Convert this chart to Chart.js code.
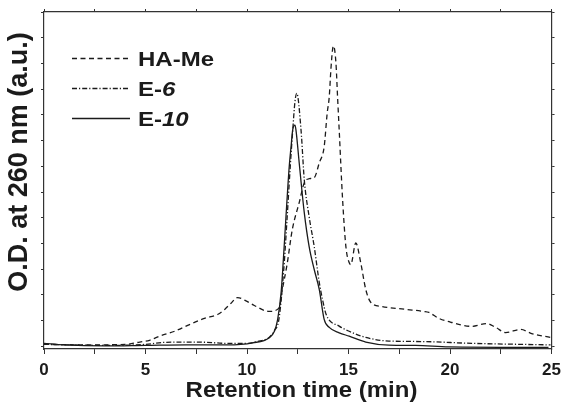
<!DOCTYPE html>
<html><head><meta charset="utf-8">
<script src="https://cdn.jsdelivr.net/npm/chart.js@4/dist/chart.umd.min.js"></script>
<style>html,body{margin:0;padding:0;background:#fff}#wrap{width:567px;height:405px;position:relative}</style>
</head><body><div id="wrap"><canvas id="c" width="567" height="405"></canvas></div>
<script>
// ---- data (retention time in min, O.D. in arbitrary units) ----
const haMeTime = [0, 2, 4, 4.72, 5.2, 5.7, 6.43, 7.17, 7.9, 8.55, 8.9, 9.2, 9.53, 10.0, 10.36, 11.1, 11.59, 11.74, 11.98, 12.23, 12.57, 12.82, 13.06, 13.31, 13.56, 13.8, 13.95, 14.05, 14.13, 14.21, 14.26, 14.38, 14.46, 14.54, 14.7, 14.87, 15.03, 15.11, 15.36, 15.6, 15.85, 16.1, 16.65, 17.81, 18.71, 18.96, 19.45, 20.09, 21.07, 21.81, 22.25, 22.74, 23.48, 24.02, 24.95];
const haMeOD   = [0.08, 0.06, 0.08, 0.17, 0.24, 0.40, 0.59, 0.85, 1.09, 1.24, 1.44, 1.67, 1.90, 1.75, 1.59, 1.36, 1.51, 2.21, 3.22, 4.54, 5.59, 6.36, 6.52, 6.56, 7.14, 7.76, 9.08, 9.70, 10.75, 11.52, 11.68, 11.02, 9.70, 8.42, 5.82, 3.88, 3.26, 3.18, 4.02, 3.26, 2.21, 1.71, 1.55, 1.44, 1.36, 1.32, 1.09, 0.93, 0.78, 0.89, 0.74, 0.54, 0.66, 0.50, 0.35];

const e6Time = [0, 3, 5, 6, 7, 8, 9, 10, 10.5, 11.1, 11.35, 11.57, 11.81, 11.98, 12.13, 12.25, 12.36, 12.45, 12.66, 12.82, 13.06, 13.31, 13.56, 13.72, 13.9, 14.54, 15.03, 15.85, 16.99, 18.61, 21.07, 24.95];
const e6OD   = [0.08, 0.04, 0.08, 0.16, 0.17, 0.16, 0.12, 0.12, 0.19, 0.36, 0.62, 1.05, 2.99, 5.06, 7.00, 8.38, 9.50, 9.84, 8.42, 6.48, 5.04, 3.88, 2.48, 1.82, 1.24, 0.79, 0.59, 0.35, 0.21, 0.19, 0.12, 0.06];

const e10Time = [0, 1, 3, 5, 7, 9, 10.28, 11.1, 11.35, 11.51, 11.68, 11.76, 11.92, 12.08, 12.17, 12.25, 12.36, 12.41, 12.57, 12.82, 13.06, 13.31, 13.56, 13.8, 14.05, 14.54, 15.03, 15.85, 16.99, 18.31, 19.94, 24.85];
const e10OD   = [0.12, 0.06, 0.02, 0.04, 0.06, 0.06, 0.14, 0.34, 0.59, 1.05, 2.10, 2.99, 5.06, 7.00, 7.77, 8.42, 8.60, 8.42, 7.14, 5.20, 3.88, 2.99, 2.21, 1.05, 0.74, 0.53, 0.40, 0.17, 0.05, 0.04, -0.02, -0.04];

const seriesNames = ['HA-Me', 'E-6', 'E-10'];
const xTicks = [0, 5, 10, 15, 20, 25];
const yTickValues = [0,1,2,3,4,5,6,7,8,9,10,11,12,13];
const xTitle = 'Retention time (min)';
const yTitle = 'O.D. at 260 nm (a.u.)';

const pts = (xs, ys) => xs.map((x, i) => ({x, y: ys[i]}));
const FONT = '"Liberation Sans", Arial, Helvetica, sans-serif';
const INK = '#1b1b1b';
const dashes = [[5, 3.5], [5, 2, 1.2, 2], []];

const textPlugin = {
  id: 'texts',
  afterDraw(chart) {
    const ctx = chart.ctx;
    // y title
    ctx.save();
    ctx.fillStyle = INK;
    ctx.translate(20, 162);
    ctx.rotate(-Math.PI / 2);
    ctx.font = 'bold 27px ' + FONT;
    ctx.textAlign = 'center';
    ctx.textBaseline = 'middle';
    ctx.fillText(yTitle, 0, 0);
    ctx.restore();
    // x title
    ctx.save();
    ctx.fillStyle = INK;
    ctx.translate(301.5, 396.5);
    ctx.scale(1.09, 1);
    ctx.font = 'bold 22px ' + FONT;
    ctx.textAlign = 'center';
    ctx.textBaseline = 'alphabetic';
    ctx.fillText(xTitle, 0, 0);
    ctx.restore();
    // legend
    const rows = [58.5, 88.5, 118.5];
    chart.data.datasets.forEach((ds, i) => {
      const y = rows[i];
      ctx.save();
      ctx.strokeStyle = INK;
      ctx.lineWidth = 1.3;
      ctx.setLineDash(ds.borderDash || []);
      ctx.beginPath();
      ctx.moveTo(72, y);
      ctx.lineTo(130, y);
      ctx.stroke();
      ctx.restore();
      ctx.save();
      ctx.fillStyle = INK;
      ctx.translate(138, y + 7);
      ctx.scale(1.2, 1);
      ctx.textBaseline = 'alphabetic';
      ctx.textAlign = 'left';
      const name = seriesNames[i];
      const m = name.match(/^(E-)(\d+)$/);
      if (m) {
        ctx.font = 'bold 20px ' + FONT;
        ctx.fillText(m[1], 0, 0);
        const w = ctx.measureText(m[1]).width;
        ctx.font = 'italic bold 20px ' + FONT;
        ctx.fillText(m[2], w, 0);
      } else {
        ctx.font = 'bold 20px ' + FONT;
        ctx.fillText(name, 0, 0);
      }
      ctx.restore();
    });
  }
};

const intTicks = (scale) => { scale.ticks = yTickValues.map(v => ({value: v})); };
const xTickBuild = (scale) => {
  const t = [];
  for (let v = 0; v <= 25; v += 2.5) t.push({value: v});
  scale.ticks = t;
};

new Chart(document.getElementById('c'), {
  type: 'line',
  data: {
    datasets: [
      {label: seriesNames[0], data: pts(haMeTime, haMeOD), borderDash: dashes[0]},
      {label: seriesNames[1], data: pts(e6Time, e6OD), borderDash: dashes[1]},
      {label: seriesNames[2], data: pts(e10Time, e10OD), borderDash: dashes[2]}
    ].map(d => Object.assign(d, {borderColor: INK, borderWidth: 1.3, pointRadius: 0, fill: false, cubicInterpolationMode: 'monotone'}))
  },
  options: {
    responsive: false,
    animation: false,
    layout: {padding: 0},
    plugins: {legend: {display: false}, tooltip: {enabled: false}},
    scales: {
      x: {
        type: 'linear', position: 'bottom', min: 0, max: 25,
        afterBuildTicks: xTickBuild,
        afterFit: s => { s.height = 56; },
        ticks: {
          autoSkip: false, maxRotation: 0, padding: 6, color: INK,
          font: {family: FONT, size: 17, weight: 'bold'},
          callback: v => xTicks.includes(v) ? String(v) : ''
        },
        grid: {drawOnChartArea: false, drawTicks: true, tickLength: 5, color: '#333', tickWidth: 1},
        border: {display: true, color: '#333', width: 1.2}
      },
      xTop: {
        type: 'linear', position: 'top', min: 0, max: 25,
        afterBuildTicks: xTickBuild,
        afterFit: s => { s.height = 12; },
        ticks: {display: false},
        grid: {drawOnChartArea: false, drawTicks: true, tickLength: 3, color: '#333', tickWidth: 1},
        border: {display: true, color: '#333', width: 1.2}
      },
      y: {
        type: 'linear', position: 'left', min: -0.1, max: 13,
        afterBuildTicks: intTicks,
        afterFit: s => { s.width = 44; },
        ticks: {display: false},
        grid: {drawOnChartArea: false, drawTicks: true, tickLength: 3, color: '#333', tickWidth: 1},
        border: {display: true, color: '#333', width: 1.2}
      },
      yRight: {
        type: 'linear', position: 'right', min: -0.1, max: 13,
        afterBuildTicks: intTicks,
        afterFit: s => { s.width = 14; },
        ticks: {display: false},
        grid: {drawOnChartArea: false, drawTicks: true, tickLength: 3, color: '#333', tickWidth: 1},
        border: {display: true, color: '#333', width: 1.2}
      }
    }
  },
  plugins: [textPlugin]
});
</script>
</body></html>
